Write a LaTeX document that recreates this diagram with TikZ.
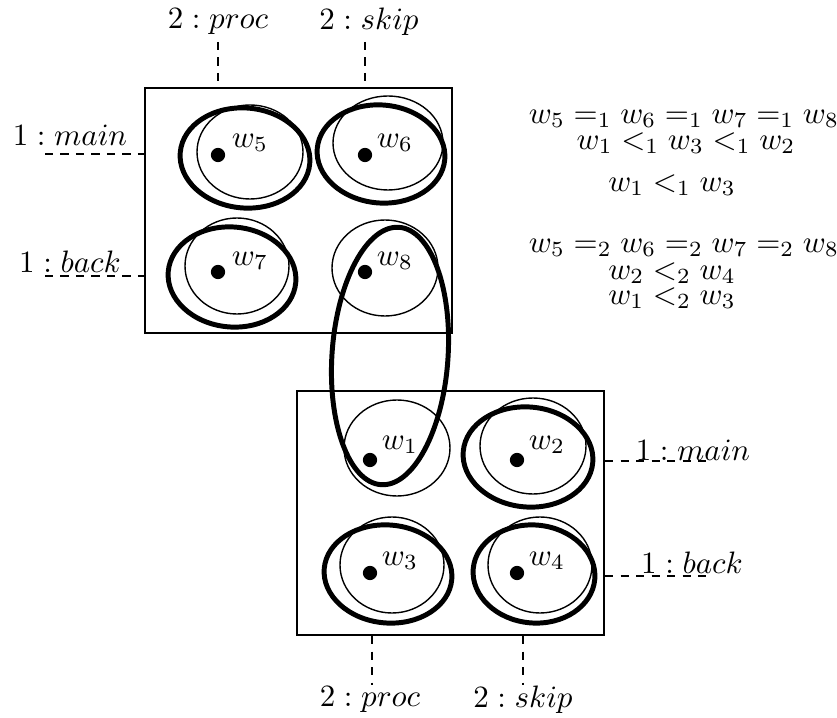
\documentclass[tikz,border=0pt]{standalone}
\begin{document}
\begin{tikzpicture}[x=0.3226pt,y=-0.3226pt,
  box/.style={draw,line width=0.7pt,inner sep=0pt},
  tick/.style={line width=0.7pt,dash pattern=on 2.6pt off 2.4pt},
  thinell/.style={line width=0.45pt},
  thickell/.style={line width=1.6pt},
  dot/.style={circle,fill,inner sep=0pt,minimum size=4.6pt},
  lab/.style={inner sep=0pt},
  wl/.style={inner sep=0pt}]
\useasboundingbox (0,0) rectangle (837,718);
% boxes
\node[box,minimum width=99.04pt,minimum height=79.04pt] (top) at (298.5,210.5) {};
\node[box,minimum width=99.04pt,minimum height=78.7pt] (bot) at (450.5,513) {};
% top box worlds
\draw[thinell] (250,152) ellipse [x radius=53, y radius=47];
\draw[thickell,rotate around={-5:(245,158)}] (245,158) ellipse [x radius=65, y radius=50];
\draw[thinell] (388,143) ellipse [x radius=55, y radius=47];
\draw[thickell,rotate around={-5:(381,154)}] (381,154) ellipse [x radius=64, y radius=49];
\draw[thinell] (237,266) ellipse [x radius=52, y radius=48];
\draw[thickell,rotate around={-5:(232,277)}] (232,277) ellipse [x radius=64, y radius=50];
\draw[thinell] (385,268) ellipse [x radius=53, y radius=48];
% bottom box worlds
\draw[thinell] (397,448) ellipse [x radius=53, y radius=48];
\draw[thinell] (533,446) ellipse [x radius=53, y radius=48];
\draw[thickell,rotate around={-5:(528,457)}] (528,457) ellipse [x radius=65, y radius=50];
\draw[thinell] (392,565) ellipse [x radius=52, y radius=48];
\draw[thickell,rotate around={-5:(388,574)}] (388,574) ellipse [x radius=64, y radius=49];
\draw[thinell] (540,565) ellipse [x radius=52, y radius=48];
\draw[thickell,rotate around={-5:(534,574)}] (534,574) ellipse [x radius=61, y radius=49];
% big ellipse w8-w1
\draw[thickell,rotate around={-4:(390,356)}] (390,356) ellipse [x radius=58, y radius=129];
% dots and labels
\node[dot] (d5) at (218,155) {}; \node[wl] (l5) at (250,143) {$w_5$};
\node[dot] (d6) at (365,155) {}; \node[wl] (l6) at (395,143) {$w_6$};
\node[dot] (d7) at (218,272) {}; \node[wl] (l7) at (250,261) {$w_7$};
\node[dot] (d8) at (365,272) {}; \node[wl] (l8) at (395,261) {$w_8$};
\node[dot] (d1) at (370,460) {}; \node[wl] (l1) at (400,445) {$w_1$};
\node[dot] (d2) at (517,460) {}; \node[wl] (l2) at (547,445) {$w_2$};
\node[dot] (d3) at (370,573) {}; \node[wl] (l3) at (400,561) {$w_3$};
\node[dot] (d4) at (517,573) {}; \node[wl] (l4) at (547,561) {$w_4$};
% top labels
\node[lab] (tp) at (218,22) {$2:proc$};
\node[lab] (ts) at (369,22) {$2:skip$};
\coordinate (tpe) at (218,42);
\coordinate (tse) at (365,42);
\draw[tick] (tpe) -- (tpe |- top.north);
\draw[tick] (tse) -- (tse |- top.north);
% left labels
\node[lab] (lm) at (70,135) {$1:main$};
\node[lab] (lb) at (70,262) {$1:back$};
\coordinate (lme) at (45,154);
\coordinate (lbe) at (45,276);
\draw[tick] (lme) -- (lme -| top.west);
\draw[tick] (lbe) -- (lbe -| top.west);
% right labels
\node[lab] (rm) at (693,450) {$1:main$};
\node[lab] (rb) at (692,563) {$1:back$};
\coordinate (rme) at (708,461);
\coordinate (rbe) at (708,576);
\draw[tick] (rme -| bot.east) -- (rme);
\draw[tick] (rbe -| bot.east) -- (rbe);
% bottom labels
\node[lab] (bp) at (370,700) {$2:proc$};
\node[lab] (bs) at (523,700) {$2:skip$};
\coordinate (bpe) at (372,685);
\coordinate (bse) at (523,685);
\draw[tick] (bpe |- bot.south) -- (bpe);
\draw[tick] (bse |- bot.south) -- (bse);
% relations
\node[lab] (r1) at (684,119) {$w_5 =_1 w_6 =_1 w_7 =_1 w_8$};
\node[lab] (r2) at (686,143) {$w_1 <_1 w_3 <_1 w_2$};
\node[lab] (r3) at (672,185) {$w_1 <_1 w_3$};
\node[lab] (r4) at (684,248) {$w_5 =_2 w_6 =_2 w_7 =_2 w_8$};
\node[lab] (r5) at (672,273) {$w_2 <_2 w_4$};
\node[lab] (r6) at (672,298) {$w_1 <_2 w_3$};
\end{tikzpicture}
\end{document}
